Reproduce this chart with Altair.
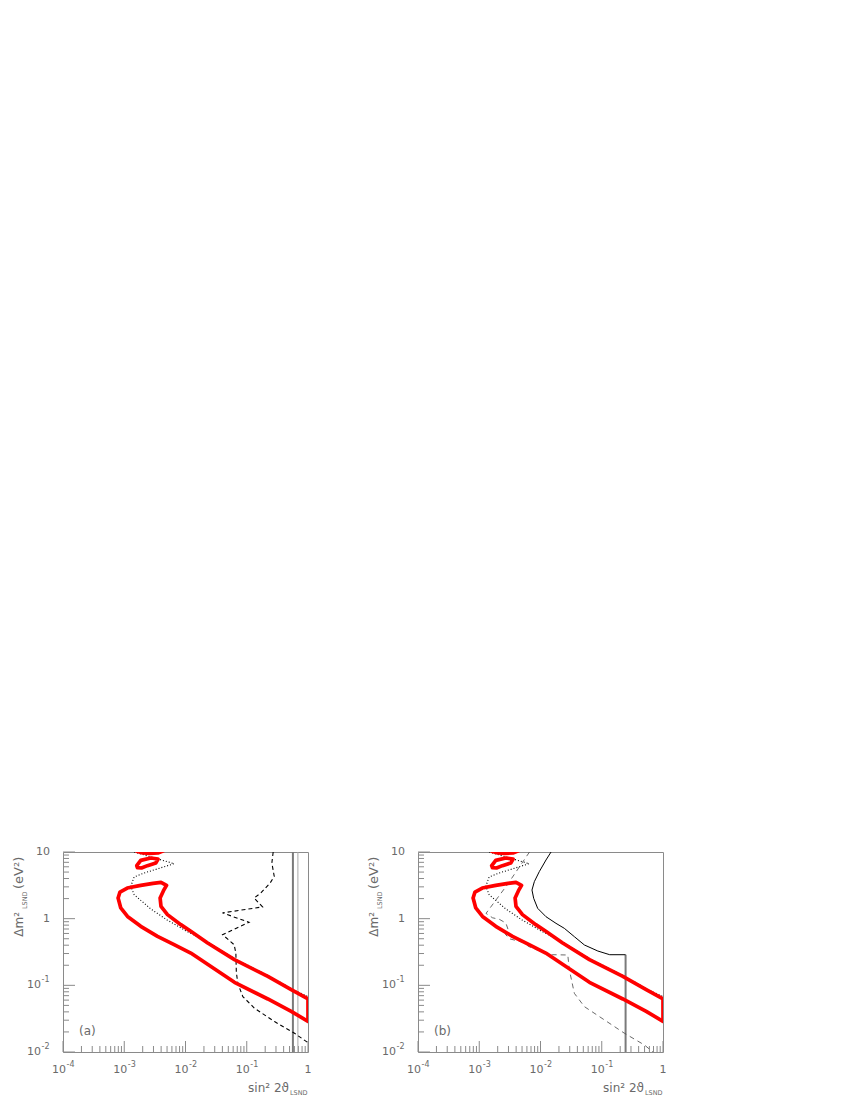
import altair as alt
import pandas as pd

# ---------------- values ----------------
# red LSND contour: main band (closed)
band_x = [0.000794, 0.000851, 0.00112, 0.00186, 0.00295, 0.00398, 0.0049, 0.00437, 0.00385, 0.00398,
          0.00508, 0.00838, 0.0122, 0.0230, 0.0630, 0.221, 0.532, 1.0, 1.0, 0.532, 0.221, 0.0630,
          0.0122, 0.00652, 0.00349, 0.00186, 0.00113, 0.000877, 0.000794]
band_y = [2.04, 2.51, 2.88, 3.16, 3.39, 3.51, 3.16, 2.63, 2.04, 1.53,
          1.15, 0.813, 0.646, 0.432, 0.243, 0.136, 0.0861, 0.0624, 0.0288, 0.0407, 0.0624, 0.111,
          0.305, 0.407, 0.543, 0.767, 1.08, 1.45, 2.04]
# red island
island_x = [0.00160, 0.00186, 0.00271, 0.00357, 0.00327, 0.00239, 0.00191, 0.00164, 0.00160]
island_y = [6.24, 7.50, 8.13, 7.85, 6.84, 6.24, 5.75, 5.82, 6.24]
# red piece cut by the top of the frame
blob_x = [0.00160, 0.00200, 0.00263, 0.00355, 0.00427]
blob_y = [10.3, 9.66, 9.55, 9.66, 10.3]

# dotted curve (both panels)
dot_x = [0.00145, 0.00652, 0.00211, 0.00145, 0.00128, 0.00145, 0.00271, 0.00501, 0.0100,
         0.0230, 0.0630, 0.221, 0.532, 1.0]
dot_y = [10.0, 6.68, 4.84, 4.22, 3.05, 2.29, 1.40, 0.955, 0.661,
         0.447, 0.251, 0.141, 0.0891, 0.0676]

# panel (a): dashed curve
dashA_x = [0.270, 0.257, 0.281, 0.241, 0.170, 0.132, 0.181, 0.0403, 0.109, 0.0403, 0.0622, 0.0664,
           0.0676, 0.0714, 0.0863, 0.134, 0.284, 0.603, 1.0]
dashA_y = [10.0, 6.84, 4.32, 3.43, 2.43, 2.04, 1.50, 1.22, 0.881, 0.575, 0.407, 0.305,
           0.158, 0.107, 0.0678, 0.0453, 0.0286, 0.0191, 0.0138]
# panel (a): vertical limits
vA_thick = [0.567]
vA_thin = [0.684]

# panel (b): solid curve
solidB_x = [0.01486, 0.0123, 0.00955, 0.00793, 0.00726, 0.00774, 0.00899, 0.0123, 0.0179, 0.0245,
            0.0357, 0.0521, 0.0863, 0.135, 0.245]
solidB_y = [10.0, 7.59, 5.07, 3.59, 2.69, 2.02, 1.43, 1.07, 0.851, 0.716,
            0.537, 0.403, 0.327, 0.288, 0.288]
vB_x = [0.245]
vB_y = [0.288]
vB_y2 = [0.01]
# panel (b): dashed curve
dashB_x = [0.00661, 0.00288, 0.00129, 0.00165, 0.00212, 0.00272, 0.00297, 0.00265, 0.00309, 0.00543,
           0.00631, 0.0123, 0.0158, 0.0279, 0.0296, 0.0357, 0.0521, 0.111, 0.235, 0.500, 0.685]
dashB_y = [10.0, 3.24, 1.20, 1.03, 0.98, 0.86, 0.68, 0.59, 0.50, 0.437,
           0.385, 0.30, 0.288, 0.285, 0.17, 0.0759, 0.0479, 0.0302, 0.0191, 0.0127, 0.010]

# axis ticks / labels
x_major = [1e-4, 1e-3, 1e-2, 1e-1, 1.0]
x_minor = [m * 10.0 ** e for e in range(-4, 0) for m in range(2, 10)]
y_major = [0.01, 0.1, 1.0, 10.0]
y_minor = [m * 10.0 ** e for e in range(-2, 1) for m in range(2, 10)]
x_lab_vals = [1e-4, 1e-3, 1e-2, 1e-1]
x_lab_exp = ["-4", "-3", "-2", "-1"]
y_lab_plain_vals = [10.0, 1.0]
y_lab_plain = ["10", "1"]
y_lab_exp_vals = [0.1, 0.01]
y_lab_exp = ["-1", "-2"]

W, H = 245, 200
FONT = "DejaVu Sans"
GRAY = "#6a6a6a"
FRAME = "#8a8a8a"

xs = alt.Scale(type="log", domain=[1e-4, 1.0], nice=False)
ys = alt.Scale(type="log", domain=[0.01, 10.0], nice=False)


def line_df(x, y):
    return pd.DataFrame({"x": x, "y": y, "i": list(range(len(x)))})


def curve(x, y, **style):
    return alt.Chart(line_df(x, y)).mark_line(clip=True, **style).encode(
        x=alt.X("x:Q", scale=xs, axis=None),
        y=alt.Y("y:Q", scale=ys, axis=None),
        order=alt.Order("i:Q"),
    )


def text_layer(t, x, y, **style):
    return alt.Chart(pd.DataFrame({"t": [t]})).mark_text(font=FONT, color=GRAY, **style).encode(
        x=alt.value(x), y=alt.value(y), text="t:N")


def frame_layers(tag):
    L = []
    # inward ticks on bottom
    L.append(alt.Chart(pd.DataFrame({"v": x_major})).mark_rule(color=FRAME).encode(
        x=alt.X("v:Q", scale=xs, axis=None), y=alt.value(H), y2=alt.value(H - 11)))
    L.append(alt.Chart(pd.DataFrame({"v": x_minor})).mark_rule(color=FRAME).encode(
        x=alt.X("v:Q", scale=xs, axis=None), y=alt.value(H), y2=alt.value(H - 6)))
    # inward ticks on left
    L.append(alt.Chart(pd.DataFrame({"v": y_major})).mark_rule(color=FRAME).encode(
        y=alt.Y("v:Q", scale=ys, axis=None), x=alt.value(0), x2=alt.value(12)))
    L.append(alt.Chart(pd.DataFrame({"v": y_minor})).mark_rule(color=FRAME).encode(
        y=alt.Y("v:Q", scale=ys, axis=None), x=alt.value(0), x2=alt.value(6)))
    # x tick labels
    L.append(alt.Chart(pd.DataFrame({"v": x_lab_vals, "b": ["10"] * 4})).mark_text(
        font=FONT, fontSize=11, color=GRAY, align="right", baseline="alphabetic", dx=3).encode(
        x=alt.X("v:Q", scale=xs, axis=None), y=alt.value(H + 21), text="b:N"))
    L.append(alt.Chart(pd.DataFrame({"v": x_lab_vals, "e": x_lab_exp})).mark_text(
        font=FONT, fontSize=8, color=GRAY, align="left", baseline="alphabetic", dx=3.5).encode(
        x=alt.X("v:Q", scale=xs, axis=None), y=alt.value(H + 15), text="e:N"))
    L.append(alt.Chart(pd.DataFrame({"v": [1.0], "b": ["1"]})).mark_text(
        font=FONT, fontSize=11, color=GRAY, align="center", baseline="alphabetic").encode(
        x=alt.X("v:Q", scale=xs, axis=None), y=alt.value(H + 21), text="b:N"))
    # y tick labels
    L.append(alt.Chart(pd.DataFrame({"v": y_lab_plain_vals, "b": y_lab_plain})).mark_text(
        font=FONT, fontSize=11, color=GRAY, align="right", baseline="middle").encode(
        y=alt.Y("v:Q", scale=ys, axis=None), x=alt.value(-13), text="b:N"))
    L.append(alt.Chart(pd.DataFrame({"v": y_lab_exp_vals, "b": ["10"] * 2})).mark_text(
        font=FONT, fontSize=11, color=GRAY, align="right", baseline="middle").encode(
        y=alt.Y("v:Q", scale=ys, axis=None), x=alt.value(-22), text="b:N"))
    L.append(alt.Chart(pd.DataFrame({"v": y_lab_exp_vals, "e": y_lab_exp})).mark_text(
        font=FONT, fontSize=8, color=GRAY, align="left", baseline="middle", dy=-5).encode(
        y=alt.Y("v:Q", scale=ys, axis=None), x=alt.value(-21.5), text="e:N"))
    # axis titles
    L.append(text_layer("sin\u00b2 2\u03d1", 226, H + 40, fontSize=12, align="right", baseline="alphabetic"))
    L.append(text_layer("LSND", 227, H + 43, fontSize=6.5, align="left", baseline="alphabetic"))
    L.append(text_layer("\u0394m\u00b2", -40, 60, fontSize=12, align="right", baseline="alphabetic", angle=270))
    L.append(text_layer("LSND", -36.5, 57, fontSize=6.5, align="left", baseline="alphabetic", angle=270))
    L.append(text_layer("(eV\u00b2)", -40, 37, fontSize=13, align="left", baseline="alphabetic", angle=270))
    # panel tag
    L.append(text_layer(tag, 16, 183, fontSize=12, align="left", baseline="alphabetic"))
    return L


def red_layers():
    style = dict(color="#ff0000", strokeWidth=3.7, strokeJoin="round", strokeCap="round")
    return [curve(band_x, band_y, **style), curve(island_x, island_y, **style),
            curve(blob_x, blob_y, **style)]


# ---------------- panel (a) ----------------
layers_a = frame_layers("(a)")
layers_a += [
    alt.Chart(pd.DataFrame({"x": vA_thick})).mark_rule(color="#7a7a7a", strokeWidth=2).encode(
        x=alt.X("x:Q", scale=xs, axis=None)),
    alt.Chart(pd.DataFrame({"x": vA_thin})).mark_rule(color="#a8a8a8", strokeWidth=1).encode(
        x=alt.X("x:Q", scale=xs, axis=None)),
    curve(dashA_x, dashA_y, color="black", strokeWidth=1.1, strokeDash=[4, 3]),
    curve(dot_x, dot_y, color="black", strokeWidth=1.1, strokeDash=[1, 2]),
]
layers_a += red_layers()
panel_a = alt.layer(*layers_a).properties(width=W, height=H)

# ---------------- panel (b) ----------------
layers_b = frame_layers("(b)")
layers_b += [
    alt.Chart(pd.DataFrame({"x": vB_x, "y": vB_y, "y2": vB_y2})).mark_rule(
        color="#7a7a7a", strokeWidth=2).encode(
        x=alt.X("x:Q", scale=xs, axis=None), y=alt.Y("y:Q", scale=ys, axis=None), y2="y2:Q"),
    curve(solidB_x, solidB_y, color="black", strokeWidth=1),
    curve(dashB_x, dashB_y, color="#444444", strokeWidth=0.8, strokeDash=[5, 4]),
    curve(dot_x, dot_y, color="black", strokeWidth=1.1, strokeDash=[1, 2]),
]
layers_b += red_layers()
panel_b = alt.layer(*layers_b).properties(width=W, height=H)

chart = alt.hconcat(panel_a, panel_b, spacing=110, bounds="flush").properties(
    padding={"left": 4, "top": 837, "right": 5, "bottom": 2}
).configure_view(stroke=FRAME, strokeWidth=1)

chart.save("out.html", embed_options={"renderer": "svg", "actions": False})
